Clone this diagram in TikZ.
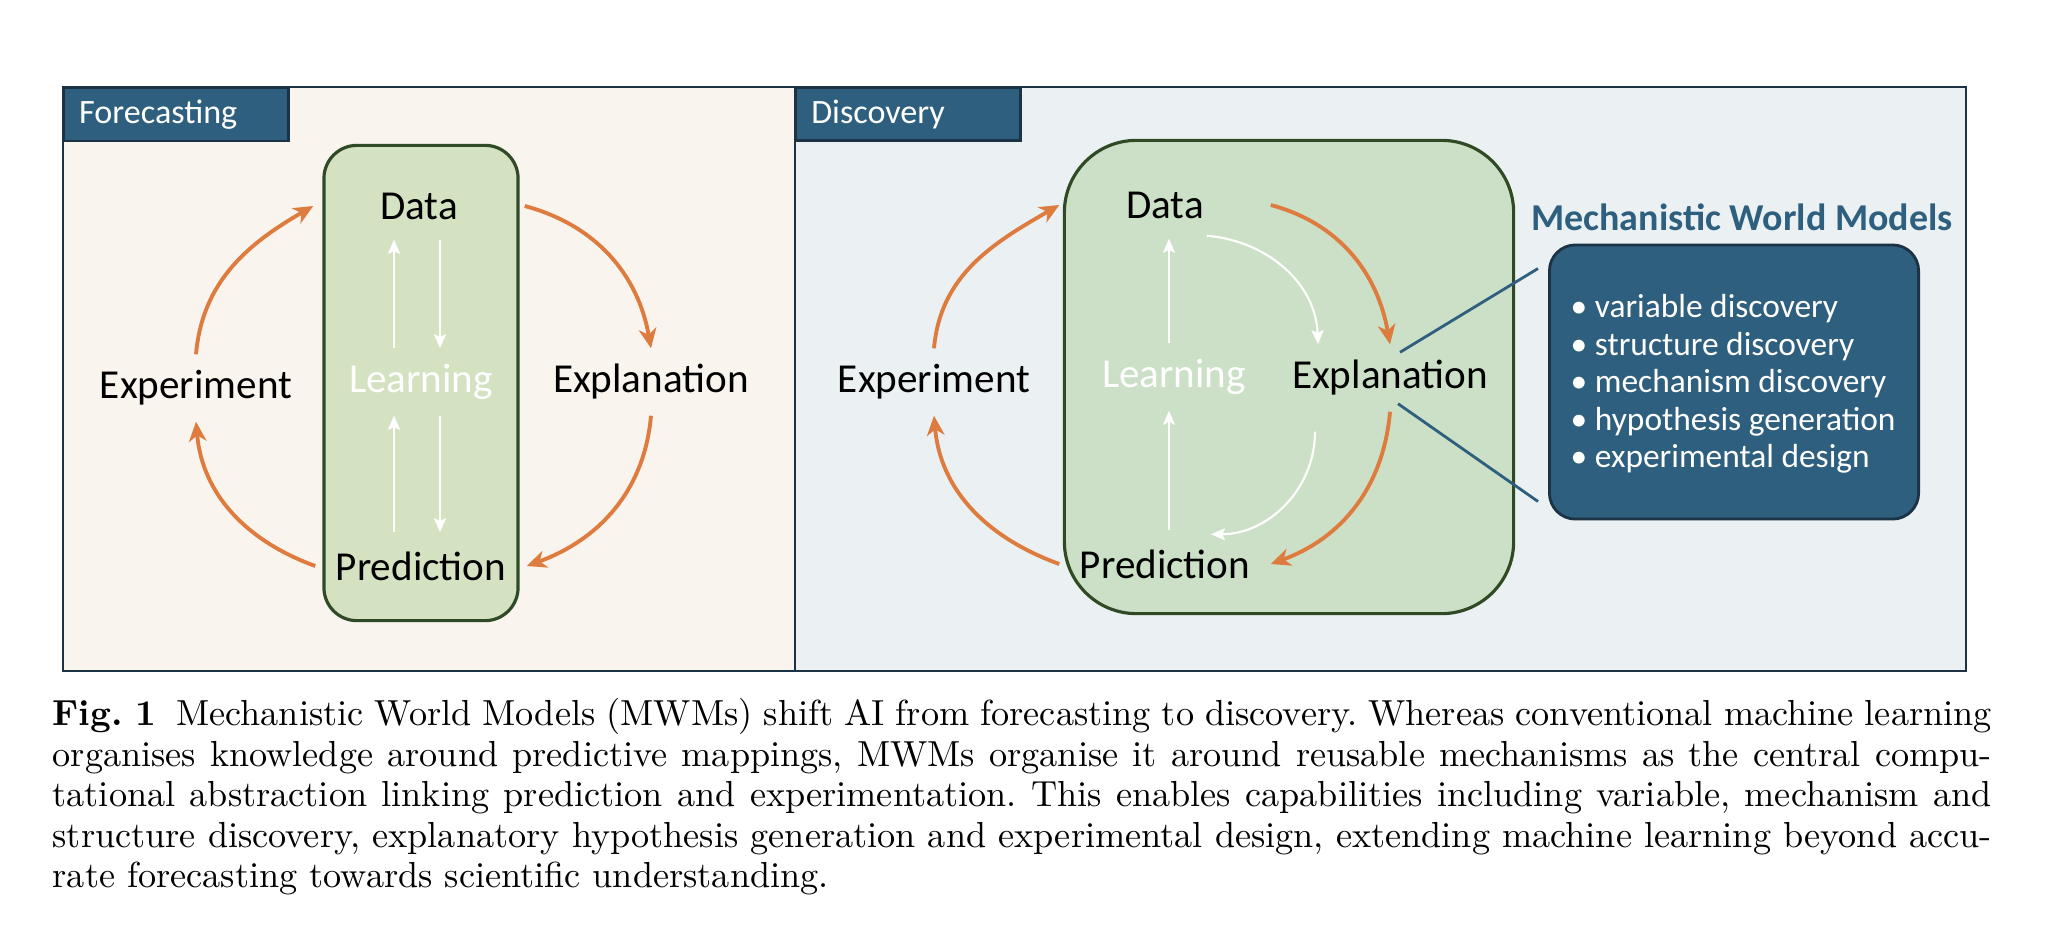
\documentclass[tikz,border=0pt]{standalone}
\usepackage{fontspec}
\usepackage{tikz}
\usetikzlibrary{arrows.meta,calc}
\newfontfamily\diagfont{Carlito}
\definecolor{navy}{HTML}{1C3245}
\definecolor{tabblue}{HTML}{2E5F7E}
\definecolor{creambg}{HTML}{FAF4EE}
\definecolor{bluebg}{HTML}{EBF1F3}
\definecolor{greenL}{HTML}{D4E2C2}
\definecolor{greenR}{HTML}{CCE0C7}
\definecolor{greenline}{HTML}{2F4A25}
\definecolor{orangearrow}{HTML}{DE7B3E}

\begin{document}
\begin{tikzpicture}[x=0.01cm, y=0.01cm,
    stage/.style={font=\diagfont\fontsize{11.7}{14}\selectfont, minimum height=0.66cm, inner sep=0pt},
    wide/.style={minimum width=2.1cm},
    tabbox/.style={draw=navy, fill=tabblue, text=white, line width=0.7pt, anchor=north west,
        minimum height=0.49cm, text width=1.94cm, inner xsep=0.15cm, align=left,
        font=\diagfont\fontsize{9.7}{11}\selectfont},
    greenbox/.style={draw=greenline, line width=0.9pt},
    orangearc/.style={draw=orangearrow, line width=1.1pt, -{Stealth[length=5.6pt, width=5pt, inset=1.7pt]}},
    flow/.style={draw=white, line width=0.6pt, -{Stealth[length=4pt, width=3.4pt, inset=0.8pt]}},
    link/.style={draw=tabblue, line width=0.8pt}]
    \useasboundingbox[fill=white] (0,0) rectangle (2046,938);

    % Pannelli
    \fill[creambg] (63,267) rectangle (795,851);
    \fill[bluebg] (795,267) rectangle (1966,851);
    \draw[navy, line width=0.8pt] (63,267) rectangle (1966,851);
    \draw[navy, line width=0.8pt] (795,267) -- (795,851);
    \node[tabbox] (tabF) at (63,851) {Forecasting};
    \node[tabbox] (tabD) at (795,851) {Discovery};

    % Riquadri
    \node[greenbox, fill=greenL, rounded corners=0.33cm, minimum width=1.94cm, minimum height=4.75cm] (boxL) at (421,555) {};
    \node[greenbox, fill=greenR, rounded corners=0.72cm, minimum width=4.49cm, minimum height=4.73cm] (boxR) at (1289,561) {};
    \node[draw=navy, fill=tabblue, line width=0.8pt, rounded corners=0.26cm, minimum width=3.69cm, minimum height=2.74cm] (mwm) at (1734,556) {};

    % Nodi - previsione
    \node[stage, wide] (DataL) at (419,732) {Data};
    \node[stage, text=white] (LearnL) at (421,556) {Learning};
    \node[stage, wide] (PredL) at (421,372) {Prediction};
    \node[stage] (ExpL) at (196,550) {Experiment};
    \node[stage] (ExplL) at (651,556) {Explanation};

    % Nodi - scoperta
    \node[stage, wide] (DataR) at (1165,733) {Data};
    \node[stage, text=white] (LearnR) at (1174,561) {Learning};
    \node[stage] (ExplR) at (1390,560) {Explanation};
    \node[stage, wide] (PredR) at (1165,374) {Prediction};
    \node[stage] (ExpR) at (934,556) {Experiment};

    \node[font=\diagfont\bfseries\fontsize{10.8}{13}\selectfont, text=tabblue] (mwmtitle) at (1742,721) {Mechanistic World Models};
    \node[font=\diagfont\fontsize{9.5}{10.7}\selectfont, text=white, align=left, anchor=west, inner sep=0pt] (mwmlist) at (1570,554)
        {\textbullet\ variable discovery\\ \textbullet\ structure discovery\\ \textbullet\ mechanism discovery\\
         \textbullet\ hypothesis generation\\ \textbullet\ experimental design};

    % Archi
    \draw[orangearc] (ExpL.north) to[out=85, in=210] (DataL.west);
    \draw[orangearc] (DataL.east) to[out=-15, in=100] (ExplL.north);
    \draw[orangearc] (ExplL.south) to[out=-95, in=20] (PredL.east);
    \draw[orangearc] (PredL.west) to[out=160, in=-85] (ExpL.south);

    \draw[orangearc] (ExpR.north) to[out=85, in=210] (DataR.west);
    \draw[orangearc] (DataR.east) to[out=-15, in=100] (ExplR.north);
    \draw[orangearc] (ExplR.south) to[out=-95, in=20] (PredR.east);
    \draw[orangearc] (PredR.west) to[out=160, in=-85] (ExpR.south);

    % frecce bianche
    \draw[flow] ($(LearnL.north)+(-27,0)$) -- ($(DataL.south)+(-25,0)$);
    \draw[flow] ($(DataL.south)+(21,0)$) -- ($(LearnL.north)+(19,0)$);
    \draw[flow] ($(PredL.north)+(-27,0)$) -- ($(LearnL.south)+(-27,0)$);
    \draw[flow] ($(LearnL.south)+(19,0)$) -- ($(PredL.north)+(19,0)$);

    \draw[flow] ($(DataR.south |- LearnR.north)+(4,0)$) -- ($(DataR.south)+(4,0)$);
    \draw[flow] ($(PredR.north)+(4,0)$) -- ($(PredR.north |- LearnR.south)+(4,0)$);
    \draw[flow] ($(DataR.south)+(42,3)$) to[out=-5, in=92] ($(ExplR.north)+(-72,0)$);
    \draw[flow] ($(ExplR.south)+(-75,-20)$) to[out=-90, in=0] ($(PredR.north)+(46,-4)$);

    % collegamenti
    \draw[link] ($(ExplR.north)+(10,-8)$) -- ($(mwm.north west)+(-10,-25)$);
    \draw[link] ($(ExplR.south)+(8,8)$) -- ($(mwm.south west)+(-10,19)$);

    % Didascalia
    \node[anchor=north west, inner sep=0pt, text width=19.38cm, align=justify,
        font=\fontsize{10.3}{11.5}\selectfont] (caption) at (52,240)
        {\frenchspacing\tolerance=9999\noindent\textbf{Fig.~1}\hspace{0.55em}Mechanistic World Models (MWMs) shift AI from forecasting to discovery. Whereas conventional machine learning\linebreak
        organises knowledge around predictive mappings, MWMs organise it around reusable mechanisms as the central compu-\linebreak
        tational abstraction linking prediction and experimentation. This enables capabilities including variable, mechanism and\linebreak
        structure discovery, explanatory hypothesis generation and experimental design, extending machine learning beyond accu-\linebreak
        rate forecasting towards scientific understanding.};
\end{tikzpicture}
\end{document}
